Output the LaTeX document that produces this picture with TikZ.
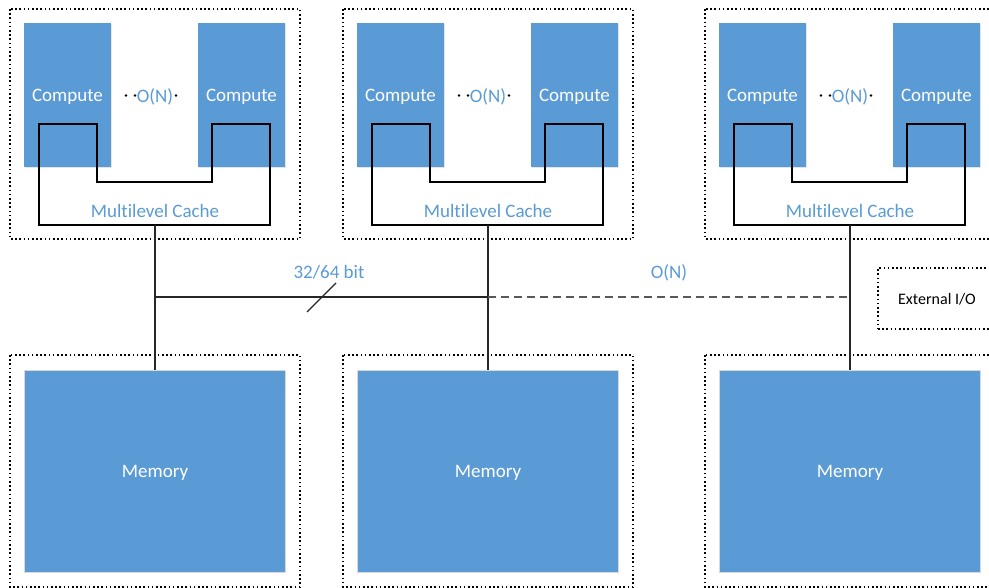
\documentclass[tikz,border=0pt]{standalone}
\usepackage{fontspec}
\setmainfont[RawFeature=-liga]{Carlito}
\usetikzlibrary{shadows}
\definecolor{oblue}{HTML}{5B9BD5}
\definecolor{busgrey}{HTML}{595959}
\tikzset{
  grp/.style={draw=black, line width=1.4pt, dash pattern=on 1.6pt off 2.6pt, fill=none},
  compbox/.style={fill=oblue, draw=none, minimum width=87pt, minimum height=144pt, inner sep=0pt,
    text=white, font=\fontsize{19}{22}\selectfont, text depth=0pt,
    drop shadow={shadow xshift=0.8pt, shadow yshift=-0.8pt, fill=black!40, opacity=0.25}},
  membox/.style={fill=oblue, draw=black!15, line width=0.8pt, minimum width=261pt, minimum height=202pt, inner sep=0pt,
    text=white, font=\fontsize{19}{22}\selectfont, text depth=0pt},
  bluetxt/.style={text=oblue, font=\fontsize{19}{22}\selectfont, inner sep=0pt},
  cacheline/.style={draw=black, line width=1.1pt},
  wire/.style={draw=black!85, line width=1.2pt},
  dashwire/.style={draw=busgrey, line width=1.4pt, dash pattern=on 8pt off 5pt},
}
\begin{document}
\begin{tikzpicture}[x=1pt,y=-1pt]
\useasboundingbox (0,0) rectangle (989,588);
\clip (0,0) rectangle (989,588);
\fill[white] (0,0) rectangle (989,588);
\foreach \i/\dx in {1/0,2/333,3/695}{
  \begin{scope}[xshift=\dx pt]
    % group frames
    \draw[grp] (10,9) rectangle (300,239);
    \draw[grp] (10,355) rectangle (300,587);
    % compute units
    \node[compbox] (ca\i) at (67.5,95) {Compute};
    \node[compbox] (cb\i) at (241.5,95) {Compute};
    % O(N) with dots
    \node[bluetxt] (on\i) at (155,96.5) {O(N)};
    \fill[black] (126,95.5) circle (1.3pt);
    \fill[black] (135,95.5) circle (1.3pt);
    \fill[black] (176,95.5) circle (1.3pt);
    % multilevel cache outline
    \draw[cacheline] (39,124) -- (97,124) -- (97,182) -- (212,182) -- (212,124) -- (270,124) -- (270,225) -- (39,225) -- cycle;
    \node[bluetxt] (mc\i) at (155,210.5) {Multilevel Cache};
    \coordinate (k\i) at (155,225);
    % memory
    \node[membox] (m\i) at (155,471) {Memory};
    \draw[wire] (k\i) -- (m\i.north);
  \end{scope}
}
\coordinate (b1) at (155,297);
\coordinate (b2) at (488,297);
\coordinate (b3) at (850,297);
\draw[wire] (b1) -- (b2);
\draw[dashwire] (b2) -- (b3);
\coordinate (s1) at (307,312);
\coordinate (s2) at (336,283);
\draw[wire] (s1) -- (s2);
\node[bluetxt] (bw) at (329,272.5) {32/64 bit};
\node[bluetxt] (bon) at (669,272.5) {O(N)};
\node[grp, minimum width=118pt, minimum height=61pt, inner sep=0pt, text depth=0pt, font=\fontsize{16}{19}\selectfont] (io) at (937,298.5) {External I/O};
\end{tikzpicture}
\end{document}
